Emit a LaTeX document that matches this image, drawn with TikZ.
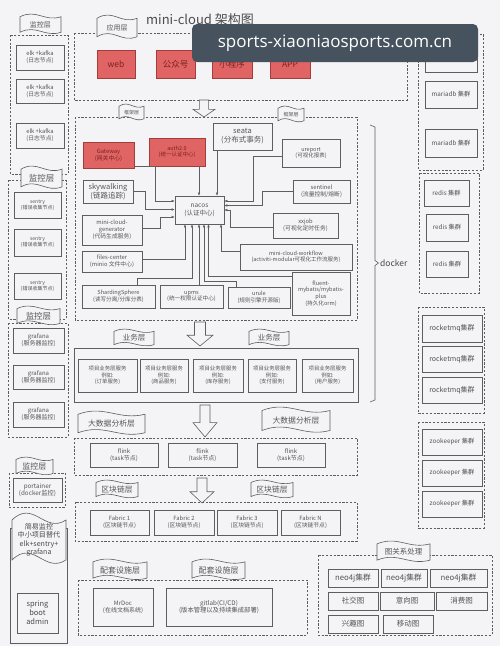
\documentclass[tikz,border=0pt]{standalone}
\usepackage{fontspec}
\setmainfont{Noto Sans CJK SC}
\newfontfamily\wmfont{Open Sans}
\usetikzlibrary{arrows.meta}
\definecolor{bg}{HTML}{F4F3F6}
\definecolor{ln}{HTML}{5E5E5E}
\definecolor{tx}{HTML}{555555}
\definecolor{redf}{HTML}{E06464}
\definecolor{redd}{HTML}{A53C3C}
\definecolor{redt}{HTML}{7A2222}
\definecolor{wm}{HTML}{46535E}
\tikzset{
 box/.style={draw=ln, line width=0.6pt, fill=bg, text=tx, align=center, inner sep=0pt, font=\fontsize{5.8}{7}\selectfont},
 redbox/.style={box, fill=redf, draw=redd, text=redt},
 dbox/.style={draw=ln, line width=0.6pt, dash pattern=on 2.2pt off 1.6pt},
 sbox/.style={draw=ln, line width=0.6pt},
 flag/.style={draw=ln, line width=0.6pt, fill=bg},
 flagtext/.style={text=tx, font=\fontsize{7}{8}\selectfont, inner sep=0pt, align=center},
 conn/.style={draw=ln, line width=0.5pt, -{Latex[length=3pt,width=2.6pt]}},
 blockarrow/.style={draw=ln, line width=0.6pt, fill=bg},
 fs/.style={font={\pgfmathsetmacro\fsbase{#1*1.2}\fontsize{#1}{\fsbase}\selectfont}},
}
\newcommand\bx[7][box]{%
 \pgfmathsetmacro\bxw{#5-#3}\pgfmathsetmacro\bxh{#6-#4}%
 \pgfmathsetmacro\bxcx{(#3+#5)/2}\pgfmathsetmacro\bxcy{(#4+#6)/2}%
 \node[#1, minimum width=\bxw pt, minimum height=\bxh pt] (#2) at (\bxcx,\bxcy) {#7};}
\newcommand\flg[7][]{%
 \pgfmathsetmacro\flw{#5-#3}\pgfmathsetmacro\fla{0.13*(#6-#4)}%
 \draw[flag] (#3,#4+\fla) .. controls (#3+0.4*\flw,#4-2*\fla) and (#3+0.6*\flw,#4+3*\fla) .. (#5,#4+\fla) -- (#5,#6-\fla) .. controls (#3+0.6*\flw,#6+\fla) and (#3+0.4*\flw,#6-4*\fla) .. (#3,#6-\fla) -- cycle;
 \node[flagtext,#1] (#2) at ({(#3+#5)/2},{(#4+#6)/2}) {#7};}
\newcommand\barrow[5]{%
 \pgfmathsetmacro\bah{0.45*(#4-#3)}\pgfmathsetmacro\bas{0.42*#5}%
 \draw[blockarrow] (#2-\bas,#3) -- (#2+\bas,#3) -- (#2+\bas,#4-\bah) -- (#2+#5,#4-\bah) -- (#2,#4) -- (#2-#5,#4-\bah) -- (#2-\bas,#4-\bah) -- cycle;
 \coordinate (#1) at (#2,#4);}
\begin{document}
\begin{tikzpicture}[x=1pt,y=-1pt]
\useasboundingbox (0,0) rectangle (500,646);
\fill[bg] (0,0) rectangle (500,646);

% ---------- left monitoring column ----------
\draw[dbox] (10,35) rectangle (68,174);
\bx{elka}{16}{45}{64}{70}{elk +kafka\\(日志节点)}
\bx{elkb}{16}{79}{64}{103}{elk +kafka\\(日志节点)}
\bx{elkc}{16}{123}{64}{148}{elk +kafka\\(日志节点)}
\flg{monA}{20}{14}{61}{35}{监控层}

\draw[dbox] (8,180) rectangle (66,319);
\bx[box,fs=5]{sena}{14}{192}{61}{218}{sentry\\(错误收集节点)}
\bx[box,fs=5]{senb}{14}{229}{61}{256}{sentry\\(错误收集节点)}
\bx[box,fs=5]{senc}{14}{273}{61}{299}{sentry\\(错误收集节点)}
\flg[fs=8.5]{monB}{21}{166}{62}{190}{监控层}

\draw[dbox] (8,323) rectangle (68,437);
\bx[box,fs=6]{grafa}{13}{328}{64}{353}{grafana\\(服务器监控)}
\bx[box,fs=6]{grafb}{13}{365}{64}{389}{grafana\\(服务器监控)}
\bx[box,fs=6]{grafc}{13}{402}{64}{427}{grafana\\(服务器监控)}
\flg[fs=8.5]{monC}{17}{306}{60}{326}{监控层}

\draw[dbox] (9,473) rectangle (65,507);
\bx[box,fs=6.3]{port}{13}{478}{62}{502}{portainer\\(docker监控)}
\flg[fs=8]{monD}{16}{457}{53}{476}{监控层}

\draw[sbox] (10,643) -- (10,528) -- (67,528) -- (67,643) -- cycle;
\flg[fs=7.1, text=black!70]{simple}{12}{513}{66}{567}{简易监控\\中小项目替代\\elk+sentry+\\grafana}
\bx[box,fs=7.5,text=black!70]{sba}{17}{593}{58}{633}{spring\\boot\\admin}

% ---------- title & application layer ----------
\node[anchor=west, text=black!70, font=\fontsize{13}{14}\selectfont, inner sep=0pt] (title) at (146,20) {mini-cloud 架构图};
\draw[dbox] (74,33) rectangle (407,100);
\flg{appl}{97}{15}{137}{40}{应用层}
\bx[redbox,fs=8.5]{web}{97}{50}{135}{78}{web}
\bx[redbox,fs=8.5]{gzh}{156}{50}{195}{78}{公众号}
\bx[redbox,fs=8.5]{xcx}{212}{50}{252}{78}{小程序}
\bx[redbox,fs=8.5]{appb}{270}{50}{310}{78}{APP}

\barrow{arrA}{204}{100}{117}{11}

% ---------- framework layer ----------
\draw[dbox] (75,117) rectangle (357,320);
\flg[fs=5]{fwa}{119}{104}{144}{121}{框架层}
\flg[fs=5]{fwb}{278}{106}{304}{123}{框架层}
\bx[redbox]{gw}{83}{142}{134}{168}{Gateway\\(网关中心)}
\bx[redbox,fs=5.5]{auth}{149}{138}{205}{166}{auth2.0\\(统一认证中心)}
\bx[box,fs=7.5]{seata}{213}{123}{272}{150}{seata\\(分布式事务)}
\bx[box,fs=5.5]{urep}{282}{139}{340}{167}{ureport\\(可视化报表)}
\bx[box,fs=7.5]{sky}{83}{180}{133}{203}{skywalking\\(链路追踪)}
\bx{sent}{293}{180}{350}{203}{sentinel\\(流量控制/熔断)}
\bx[box,fs=6.5]{nacos}{175}{196}{224}{224}{nacos\\(认证中心)}
\bx{gen}{82}{215}{142}{245}{mini-cloud-\\generator\\(代码生成服务)}
\bx{xxjob}{273}{213}{338}{238}{xxjob\\(可视化定时任务)}
\bx{files}{82}{251}{142}{272}{files-center\\(minio 文件中心)}
\bx[box,fs=5.5]{wflow}{240}{244}{352}{270}{mini-cloud-workflow\\(activiti-modular可视化工作流服务)}
\bx[box,fs=5.6]{shard}{82}{285}{155}{308}{ShardingSphere\\(读写分离/分库分表)}
\bx[box,fs=5.6]{upms}{160}{285}{223}{308}{upms\\(统一权限认证中心)}
\bx[box,fs=5.6]{urule}{228}{287}{290}{308}{urule\\(规则引擎开源版)}
\bx[box,fs=5.6]{fluent}{292}{272}{350}{315}{fluent-\\mybatis/mybatis-\\plus\\(持久化orm)}

% connectors into nacos
\draw[conn] (gw.east |- 0,166) -- (155,166) -- (155,201) -- (nacos.west |- 0,201);
\draw[conn] (sky.east) -- (145,191.5) -- (145,209.5) -- (nacos.west |- 0,209.5);
\draw[conn] (gen.east |- 0,228) -- (160,228) -- (160,217) -- (nacos.west |- 0,217);
\draw[conn] (auth.south -| 199,0) -- (nacos.north -| 199,0);
\draw[conn] (seata.south -| 217,0) -- (nacos.north -| 217,0);
\draw[conn] (urep.west |- 0,156) -- (253,156) -- (253,201) -- (nacos.east |- 0,201);
\draw[conn] (sent.west) -- (262,191.5) -- (262,205.5) -- (nacos.east |- 0,205.5);
\draw[conn] (xxjob.west |- 0,227) -- (230,227) -- (230,210) -- (nacos.east |- 0,210);
\draw[conn] (files.east |- 0,259) -- (185,259) -- (nacos.south -| 185,0);
\draw[conn] (shard.north -| 137,0) -- (137,278) -- (192,278) -- (nacos.south -| 192,0);
\draw[conn] (upms.north -| 199,0) -- (nacos.south -| 199,0);
\draw[conn] (urule.north -| 236,0) -- (236,281) -- (204,281) -- (nacos.south -| 204,0);
\draw[conn] (fluent.west |- 0,276) -- (208.5,276) -- (nacos.south -| 208.5,0);
\draw[conn] (wflow.west |- 0,251) -- (221,251) -- (nacos.south -| 221,0);

% docker bracket
\draw[ln, line width=0.6pt] (370,125) -- (375,127) -- (375,260.5) -- (378.5,263) -- (375,265.5) -- (375,400) -- (370,402);
\node[anchor=west, text=black!70, font=\fontsize{8.5}{10}\selectfont, inner sep=0pt] (docker) at (380,263) {docker};

% ---------- business layer ----------
\barrow{arrB}{200}{322}{346}{13}
\flg[fs=7.5]{bua}{114}{329}{154}{347}{业务层}
\flg[fs=7.5]{bub}{249}{329}{289}{347}{业务层}
\draw[sbox] (74,348) rectangle (358,402);
\bx[box,fs=5.4]{sva}{78}{359}{137}{392}{项目业务层服务\\例如:\\(订单服务)}
\bx[box,fs=5.4]{svb}{140}{359}{188}{392}{项目业务层服务\\例如:\\(商品服务)}
\bx[box,fs=5.4]{svc}{193}{359}{243}{392}{项目业务层服务\\例如:\\(库存服务)}
\bx[box,fs=5.4]{svd}{248}{359}{296}{392}{项目业务层服务\\例如:\\(支付服务)}
\bx[box,fs=5.4]{sve}{302}{359}{353}{392}{项目业务层服务\\例如:\\(用户服务)}

% ---------- big data layer ----------
\barrow{arrC}{205}{405}{437}{12}
\flg[fs=7.8]{bda}{78}{411}{145}{436}{大数据分析层}
\flg[fs=7.8]{bdb}{262}{407}{330}{434}{大数据分析层}
\draw[dbox] (74,438) rectangle (357,475);
\bx[box,fs=6]{flka}{90}{443}{158}{467}{flink\\(task节点)}
\bx[box,fs=6]{flkb}{168}{443}{237}{467}{flink\\(task节点)}
\bx[box,fs=6]{flkc}{257}{443}{325}{467}{flink\\(task节点)}

% ---------- blockchain layer ----------
\barrow{arrD}{202}{478}{503}{12}
\flg[fs=7.8]{bca}{96}{480}{138}{499}{区块链层}
\flg[fs=7.8]{bcb}{251}{480}{293}{499}{区块链层}
\draw[dbox] (75,502) rectangle (357,541);
\bx{fba}{90}{510}{149}{535}{Fabric 1\\(区块链节点)}
\bx{fbb}{154}{510}{214}{535}{Fabric 2\\(区块链节点)}
\bx{fbc}{217}{510}{277}{535}{Fabric 3\\(区块链节点)}
\bx{fbd}{281}{510}{340}{535}{Fabric N\\(区块链节点)}

% ---------- supporting layer ----------
\draw[dbox] (78,580) rectangle (307,635);
\flg[fs=8]{spa}{93}{559}{147}{581}{配套设施层}
\flg[fs=8]{spb}{192}{559}{245}{581}{配套设施层}
\bx[box,fs=6]{mrdoc}{93}{588}{153}{626}{MrDoc\\(在线文档系统)}
\bx[box,fs=6.3]{gitlab}{166}{588}{272}{626}{gitlab(CI/CD)\\(版本管理以及持续集成部署)}

% ---------- graph layer ----------
\draw[dbox] (318,555) rectangle (492,635);
\flg[fs=7.5]{gra}{377}{541}{430}{563}{图关系处理}
\bx[box,fs=7.8]{neoa}{328}{569}{378}{587}{neo4j集群}
\bx[box,fs=7.8]{neob}{381}{569}{427}{587}{neo4j集群}
\bx[box,fs=7.8]{neoc}{430}{569}{487}{587}{neo4j集群}
\bx[box,fs=7.5]{gsoc}{328}{592}{378}{610}{社交图}
\bx[box,fs=7.5]{gint}{380}{592}{434}{610}{意向图}
\bx[box,fs=7.5]{gcon}{436}{592}{487}{610}{消费图}
\bx[box,fs=7.5]{gfun}{328}{615}{378}{633}{兴趣图}
\bx[box,fs=7.5]{gmov}{383}{615}{433}{633}{移动图}

% ---------- right column ----------
\draw[dbox] (418,34) rectangle (483,170);
\bx[box,fs=6.3]{maa}{425}{43}{477}{72}{mariadb 集群}
\bx[box,fs=6.3]{mab}{425}{81}{477}{108}{mariadb 集群}
\bx[box,fs=6.3]{mac}{425}{129}{477}{157}{mariadb 集群}
\draw[dbox] (419,173) rectangle (479,293);
\bx[box,fs=6.3]{rda}{424}{180}{469}{206}{redis 集群}
\bx[box,fs=6.3]{rdb}{426}{214}{468}{241}{redis 集群}
\bx[box,fs=6.3]{rdc}{426}{251}{468}{277}{redis 集群}
\draw[dbox] (418,307) rectangle (484,413);
\bx[box,fs=7]{rma}{422}{315}{482}{342}{rocketmq集群}
\bx[box,fs=7]{rmb}{422}{346}{482}{372}{rocketmq集群}
\bx[box,fs=7]{rmc}{422}{377}{482}{403}{rocketmq集群}
\draw[dbox] (418,422) rectangle (484,528);
\bx[box,fs=6.3]{zka}{422}{429}{482}{455}{zookeeper 集群}
\bx[box,fs=6.3]{zkb}{422}{460}{482}{486}{zookeeper 集群}
\bx[box,fs=6.3]{zkc}{422}{491}{482}{517}{zookeeper 集群}

% ---------- watermark overlay ----------
\node[fill=wm, rounded corners=5pt, minimum width=286pt, minimum height=38pt, inner sep=0pt, text=white, font=\wmfont\fontsize{17}{17}\selectfont] (wmark) at (335,43) {sports-xiaoniaosports.com.cn};
\end{tikzpicture}
\end{document}
